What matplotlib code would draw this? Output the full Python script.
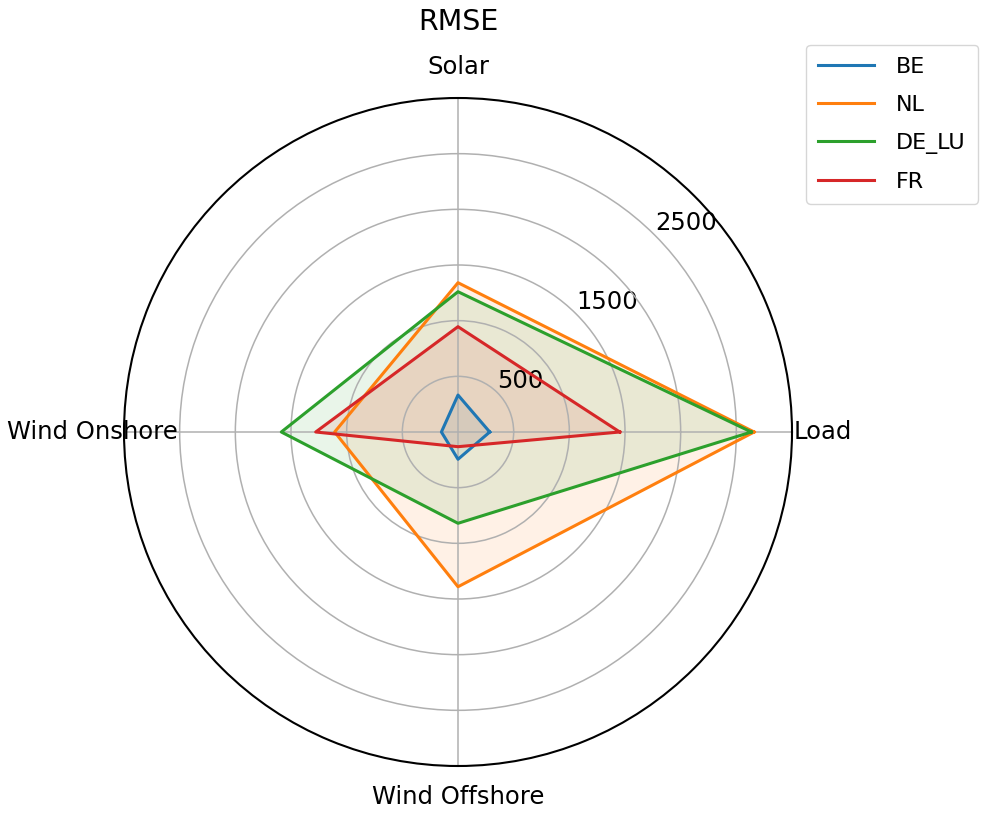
import numpy as np
import matplotlib
matplotlib.use("Agg")
import matplotlib.pyplot as plt

categories = ["Load", "Solar", "Wind Onshore", "Wind Offshore"]
zones = ["BE", "NL", "DE_LU", "FR"]
rmse_be = [285, 332, 149, 245]
rmse_nl = [2660, 1341, 1108, 1390]
rmse_de_lu = [2635, 1260, 1587, 820]
rmse_fr = [1453, 946, 1278, 132]
series = [rmse_be, rmse_nl, rmse_de_lu, rmse_fr]

angles = np.linspace(0, 2 * np.pi, len(categories), endpoint=False).tolist()
angles += angles[:1]

fig = plt.figure(figsize=(9.85, 8.15), dpi=100)
ax = fig.add_axes([124 / 985, 49 / 815, 668 / 985, 668 / 815], polar=True)

for name, vals in zip(zones, series):
    v = vals + vals[:1]
    line, = ax.plot(angles, v, linewidth=2.2, label=name)
    ax.fill(angles, v, color=line.get_color(), alpha=0.1)

ax.set_xticks(angles[:-1])
ax.set_xticklabels(categories, fontsize=17.5)
ax.tick_params(axis="x", pad=12)
ax.set_ylim(0, 3000)
ax.set_yticks([500, 1000, 1500, 2000, 2500])
ax.set_yticklabels(["500", "", "1500", "", "2500"], fontsize=17.5)
ax.set_rlabel_position(45)
ax.grid(True, color="#b0b0b0", linewidth=1.1)
ax.spines["polar"].set_linewidth(1.5)

ax.set_title("RMSE", fontsize=20.5, pad=18)
ax.legend(loc="upper right", bbox_to_anchor=(978 / 985, 1 - 45 / 815),
          bbox_transform=fig.transFigure, borderaxespad=0, fontsize=16,
          handlelength=2.5, handletextpad=1.0, labelspacing=0.8,
          borderpad=0.55)

plt.savefig("out.png", dpi=100)
